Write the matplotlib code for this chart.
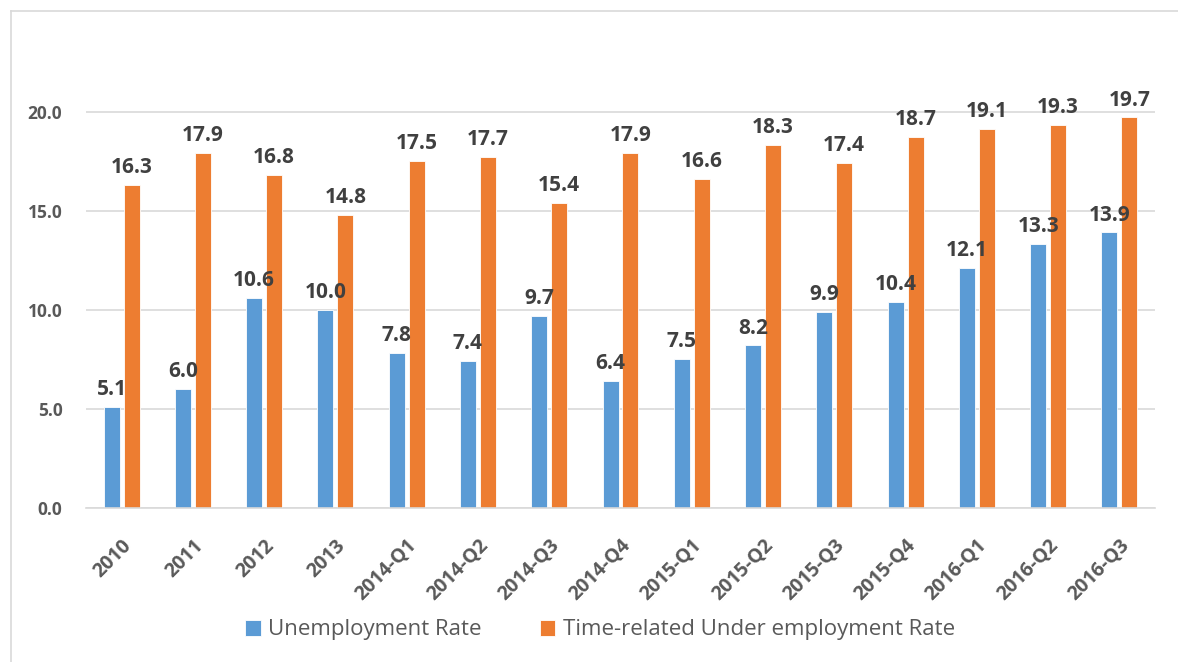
import matplotlib
matplotlib.use("Agg")
import matplotlib.pyplot as plt
import numpy as np
from matplotlib.lines import Line2D

plt.rcParams['font.family'] = ['Open Sans', 'DejaVu Sans']

periods = ['2010', '2011', '2012', '2013', '2014-Q1', '2014-Q2', '2014-Q3', '2014-Q4',
           '2015-Q1', '2015-Q2', '2015-Q3', '2015-Q4', '2016-Q1', '2016-Q2', '2016-Q3']
unemployment = [5.1, 6.0, 10.6, 10.0, 7.8, 7.4, 9.7, 6.4, 7.5, 8.2, 9.9, 10.4, 12.1, 13.3, 13.9]
underemployment = [16.3, 17.9, 16.8, 14.8, 17.5, 17.7, 15.4, 17.9, 16.6, 18.3, 17.4, 18.7, 19.1, 19.3, 19.7]

blue = '#5B9BD5'
orange = '#ED7D31'
txt = '#404040'

fig = plt.figure(figsize=(11.78, 6.62), dpi=100)
# plot area in pixel terms: x 86..1155, y 60..508
ax = fig.add_axes([86/1178, 1 - 508/662, (1155-86)/1178, (508-60)/662])

x = np.arange(len(periods))
w = 0.225
b1 = ax.bar(x - 0.14, unemployment, w, color=blue, edgecolor='white', linewidth=0.6,
            label='Unemployment Rate')
b2 = ax.bar(x + 0.14, underemployment, w, color=orange, edgecolor='white', linewidth=0.6,
            label='Time-related Under employment Rate')

for bars, vals in [(b1, unemployment), (b2, underemployment)]:
    for r, v in zip(bars, vals):
        ax.text(r.get_x() + r.get_width()/2, v + 0.35, f'{v:.1f}', ha='center', va='bottom',
                fontsize=15, fontweight='bold', color=txt)

ax.set_xlim(-0.5, len(periods) - 0.5)
ax.set_ylim(0, 22.6)
ax.set_yticks([0, 5, 10, 15, 20])
ax.set_yticklabels([f'{t:.1f}' for t in [0, 5, 10, 15, 20]], fontsize=12.5,
                   fontweight='bold', color='#595959')
ax.yaxis.grid(True, color='#d9d9d9', linewidth=1.2)
ax.set_axisbelow(True)
for s in ['top', 'right', 'left']:
    ax.spines[s].set_visible(False)
ax.spines['bottom'].set_color('#d9d9d9')
ax.spines['bottom'].set_linewidth(1.2)
ax.tick_params(axis='both', length=0)
ax.tick_params(axis='y', pad=17)
ax.set_xticks(x)
ax.set_xticklabels(periods, rotation=45, ha='right', rotation_mode='anchor',
                   fontsize=14, fontweight='bold', color='#595959')
ax.tick_params(axis='x', pad=20)

leg = fig.legend(handles=[b1, b2], loc='center', bbox_to_anchor=(600/1178, 1 - 630/662),
                 ncol=2, frameon=False, fontsize=16, handlelength=0.7, handleheight=0.7,
                 columnspacing=2.6, handletextpad=0.35)
for t in leg.get_texts():
    t.set_color('#595959')

# chart border lines (top and left)
fig.add_artist(Line2D([11/1178, 1], [1 - 11/662, 1 - 11/662], color='#d9d9d9', lw=1.2))
fig.add_artist(Line2D([11/1178, 11/1178], [0, 1 - 11/662], color='#d9d9d9', lw=1.2))

fig.savefig('out.png', dpi=100)
